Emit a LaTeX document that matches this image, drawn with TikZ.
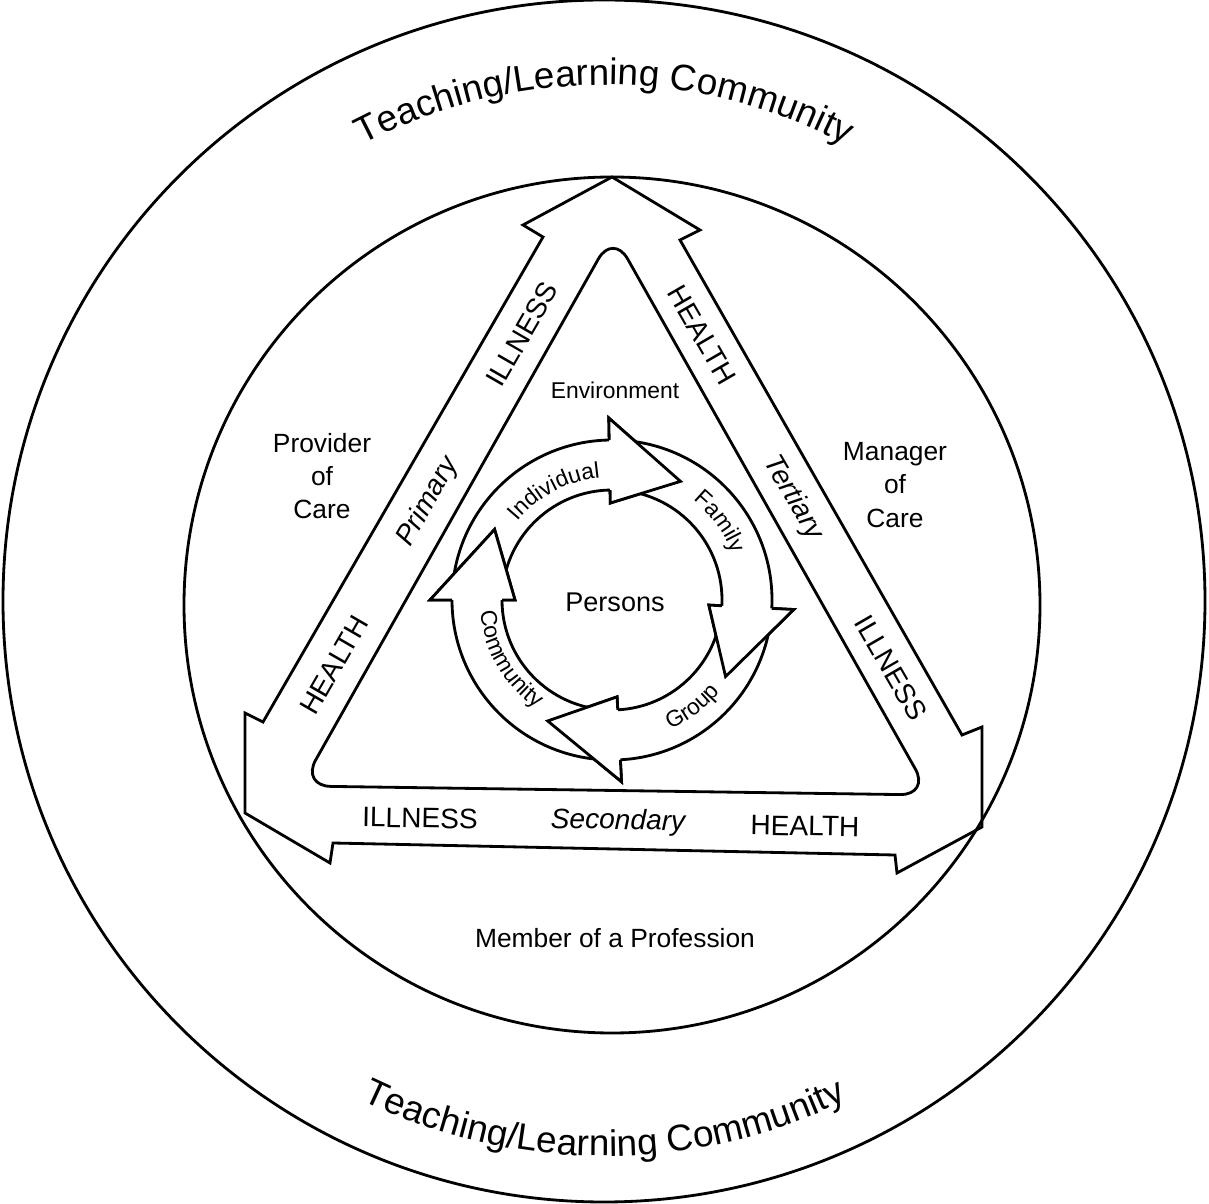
\documentclass[tikz,border=0pt]{standalone}
\usepackage{fontspec}
\setmainfont{Liberation Sans}
\usetikzlibrary{decorations.text}
\newcommand{\tlcfont}{\fontsize{10.5}{12}\selectfont}
\newcommand{\ringfont}{\fontsize{6.5}{7}\selectfont}

\begin{document}
\begin{tikzpicture}[line width=0.8pt,
  band label/.style={font=\fontsize{8}{9}\selectfont, inner sep=0pt},
  role label/.style={align=center, font=\fontsize{7.5}{9.5}\selectfont},
  ring arrow/.style={draw, fill=white}]

  \useasboundingbox (0,0) rectangle (12.09,12.03);

  \draw (6.04,6.02) circle (6.01);
  \draw (6.12,5.98) circle (4.28);

  % the three arrows round the triangle
  \draw (6.12,10.26) -- (7.00,9.73) -- (6.80,9.63) -- (9.62,4.68) -- (9.82,4.76)
    -- (9.82,3.76) -- (8.97,3.30) -- (8.95,3.48) -- (3.33,3.60) -- (3.30,3.40)
    -- (2.45,3.90) -- (2.45,4.90) -- (2.63,4.81) -- (5.43,9.66) -- (5.23,9.78) -- cycle;
  \draw[rounded corners=3mm] (6.13,9.70) -- (9.30,4.08) -- (3.01,4.17) -- cycle;

  \path[decorate, decoration={text along path, text align=center,
      text={|\tlcfont|Teaching/Learning Community}}]
    (6.04,6.02) ++(150:5.16) arc[start angle=150, end angle=30, radius=5.16];
  \path[decorate, decoration={text along path, text align=center,
      text={|\tlcfont|Teaching/Learning Community}}]
    (6.04,6.02) ++(210:5.55) arc[start angle=210, end angle=330, radius=5.55];

  \node[band label, rotate=60] (ill1) at (5.22,8.69) {ILLNESS};
  \node[band label, rotate=60] (prim) at (4.28,7.01) {\itshape Primary};
  \node[band label, rotate=60] (hea1) at (3.34,5.38) {HEALTH};
  \node[band label, rotate=-60] (hea2) at (7.02,8.68) {HEALTH};
  \node[band label, rotate=-60] (tert) at (7.93,7.05) {\itshape Tertiary};
  \node[band label, rotate=-60] (ill2) at (8.91,5.35) {ILLNESS};
  \node[band label, rotate=-1] (ill3) at (4.20,3.85) {ILLNESS};
  \node[band label, rotate=-1] (sec) at (6.18,3.81) {\itshape Secondary};
  \node[band label, rotate=-1] (hea3) at (8.05,3.77) {HEALTH};

  \node[role label] (prov) at (3.22,7.27) {Provider\\of\\Care};
  \node[role label] (mana) at (8.95,7.18) {Manager\\of\\Care};
  \node[role label] (memb) at (6.15,2.65) {Member of a Profession};
  \node[font=\fontsize{6.5}{8}\selectfont] (envi) at (6.15,8.13) {Environment};

  % ring of persons
  \begin{scope}[shift={(6.12,6.03)}]
    \foreach \a/\b/\t in {175/91/60, 86/-3/-34, -8/-87/-118, -92/-180/-211}
      \draw[ring arrow] (\a:1.6) arc[start angle=\a, end angle=\b, radius=1.6]
        -- (\b:1.82) -- (\t:1.37) -- (\b:0.97) -- (\b:1.1)
        arc[start angle=\b, end angle=\a, radius=1.1] -- cycle;
    % heads once more, over the tails
    \foreach \b/\t in {91/60, -3/-34, -87/-118, -180/-211} {
      \fill[white] (\b:0.97) -- (\t:1.37) -- (\b:1.82) -- cycle;
      \draw (\b:1.6) -- (\b:1.82) -- (\t:1.37) -- (\b:0.97) -- (\b:1.1);
    }
    \node[font=\fontsize{7.7}{9}\selectfont] (pers) at (0.03,-0.02) {Persons};
    \path[decorate, decoration={text along path, text align=center,
        text={|\ringfont|Individual}}]
      (153:1.23) arc[start angle=153, end angle=83, radius=1.23];
    \path[decorate, decoration={text along path, text align=center,
        text={|\ringfont|Family}}]
      (71:1.29) arc[start angle=71, end angle=1, radius=1.29];
    \path[decorate, decoration={text along path, text align=center,
        text={|\ringfont|Group}}]
      (-88:1.42) arc[start angle=-88, end angle=-18, radius=1.42];
    \path[decorate, decoration={text along path, text align=center,
        text={|\ringfont|Community}}]
      (175:1.32) arc[start angle=175, end angle=245, radius=1.32];
  \end{scope}

\end{tikzpicture}
\end{document}
